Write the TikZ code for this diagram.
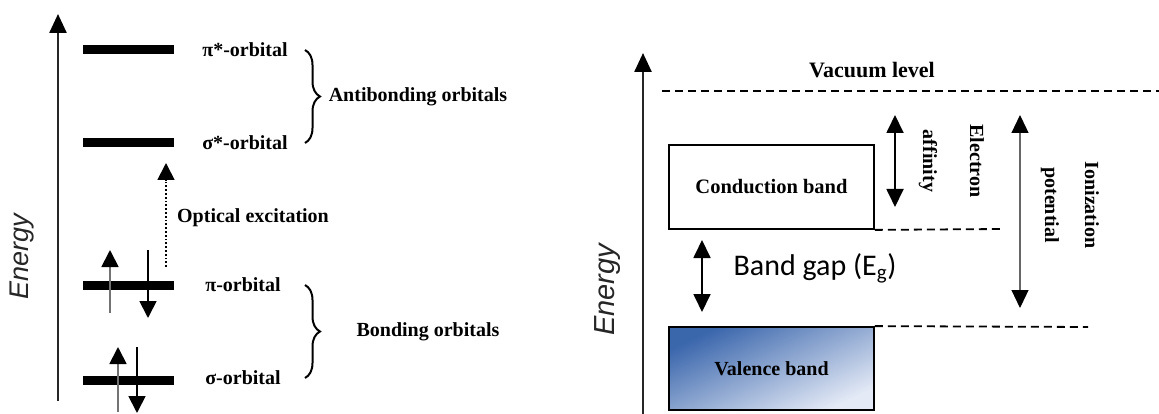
\documentclass[tikz,border=0pt]{standalone}
\usepackage{fontspec}
\setmainfont{Liberation Serif}
\newfontfamily\energyfont{Liberation Sans}
\newfontfamily\gapfont{Carlito}
\usetikzlibrary{arrows.meta,positioning,decorations.pathreplacing}
\definecolor{vbdark}{RGB}{58,102,172}
\definecolor{vblight}{RGB}{228,234,246}
\tikzset{
  orbital/.style={fill=black, inner sep=0pt, minimum width=91pt, minimum height=9pt},
  orblabel/.style={font=\fontsize{20}{22}\selectfont\bfseries, inner sep=0pt},
  energylabel/.style={font=\energyfont\itshape\fontsize{27}{30}\selectfont, text=black!85, inner sep=0pt},
  energyaxis/.style={line width=2.5pt, draw=black!85, -{Triangle[width=17pt,length=19pt,black]}},
  spin/.style={line width=1.8pt, -{Triangle[width=17pt,length=17pt,black]}},
  optical/.style={line width=1.8pt, dotted, -{Triangle[width=17pt,length=17pt,black]}},
  obrace/.style={decorate, decoration={brace, amplitude=15pt, aspect=0.5}, line width=2pt},
  band/.style={draw, line width=1.8pt, inner sep=0pt, minimum width=205pt},
  level/.style={line width=1.8pt, dash pattern=on 8pt off 5pt},
  gaparrow/.style={line width=1.8pt, {Triangle[width=17pt,length=18pt,black]}-{Triangle[width=17pt,length=18pt,black]}},
}
\begin{document}
\begin{tikzpicture}[x=1pt, y=-1pt]
  \useasboundingbox (0,0) rectangle (1159,414);

  % MOLECULAR ORBITALS
  \coordinate (ea0) at (58,401); % axis bottom
  \coordinate (ea1) at (58,14); % axis top
  \draw[energyaxis] (ea0) -- (ea1);
  \node[energylabel, rotate=90] (en0) at (22,257) {Energy};

  \node[orbital] (pistar) at (128.5,50) {};
  \node[orbital] (sigstar) at (128.5,143) {};
  \node[orbital] (pi) at (128.5,285) {};
  \node[orbital] (sig) at (128.5,380) {};

  \node[orblabel] (lpistar) at (245,50) {π*-orbital};
  \node[orblabel] (lsigstar) at (245,143) {σ*-orbital};
  \node[orblabel] (lpi) at (243,285) {π-orbital};
  \node[orblabel] (lsig) at (243,378) {σ-orbital};

  % DRAW ELECTRONS
  \coordinate (pu0) at (110,313);
  \coordinate (pu1) at (110,250);
  \coordinate (pd0) at (148,250);
  \coordinate (pd1) at (148,318);
  \coordinate (su0) at (118,412);
  \coordinate (su1) at (118,347);
  \coordinate (sd0) at (137,347);
  \coordinate (sd1) at (137,413);
  \draw[spin, draw=black!55] (pu0) -- (pu1);
  \draw[spin] (pd0) -- (pd1);
  \draw[spin, draw=black!55] (su0) -- (su1);
  \draw[spin] (sd0) -- (sd1);

  % OPTICAL EXCITATION
  \coordinate (ox0) at (166,267);
  \coordinate (ox1) at (166,163);
  \draw[optical] (ox0) -- (ox1);
  \node[orblabel] (lopt) at (253,218) {Optical excitation};

  % BRACES
  \coordinate (ab0) at (305,50);
  \coordinate (ab1) at (305,143);
  \coordinate (bb0) at (305,285);
  \coordinate (bb1) at (305,378);
  \draw[obrace] (ab0) -- (ab1);
  \draw[obrace] (bb0) -- (bb1);
  \node[orblabel] (lanti) at (418,97) {Antibonding orbitals};
  \node[orblabel] (lbond) at (428,332) {Bonding orbitals};

  % BAND DIAGRAM
  \coordinate (eb0) at (643,416); % axis bottom
  \coordinate (eb1) at (643,53); % axis top
  \draw[energyaxis] (eb0) -- (eb1);
  \node[energylabel, rotate=90, font=\energyfont\itshape\fontsize{29}{32}\selectfont] (en1) at (608,290) {Energy};

  \node[orblabel, font=\fontsize{22}{24}\selectfont\bfseries] (lvac) at (872,70) {Vacuum level};
  \coordinate (vac0) at (662,91);
  \coordinate (vac1) at (1159,91);
  \draw[level] (vac0) -- (vac1);

  \node[band, minimum height=84pt, font=\fontsize{20.5}{22}\selectfont\bfseries] (cb) at (771.5,187) {Conduction band};
  \node[band, minimum height=83pt, top color=vbdark, bottom color=vblight, shading angle=25,
        font=\fontsize{20}{22}\selectfont\bfseries] (vb) at (771.5,368.5) {Valence band};

  \coordinate (cbe) at (1002,229);
  \coordinate (vbe) at (1088,327);
  \draw[level] (cb.south east) -- (cbe);
  \draw[level] (vb.north east) -- (vbe);

  % GAP AND ENERGIES
  \coordinate (g0) at (702,240);
  \coordinate (g1) at (702,312);
  \draw[gaparrow] (g0) -- (g1);
  \node[font=\gapfont\fontsize{30}{32}\selectfont, inner sep=0pt] (lgap) at (815,268) {Band gap (E\textsubscript{g})};

  \coordinate (ea0r) at (895,115);
  \coordinate (ea1r) at (895,207);
  \draw[gaparrow] (ea0r) -- (ea1r);
  \node[orblabel, font=\fontsize{20}{47}\selectfont\bfseries, align=center, rotate=-90] (laff) at (951.5,161) {Electron\\affinity};

  \coordinate (ip0) at (1020,115);
  \coordinate (ip1) at (1020,308);
  \draw[gaparrow, line width=1.2pt, draw=black!60] (ip0) -- (ip1);
  \node[orblabel, font=\fontsize{20}{40}\selectfont\bfseries, align=center, rotate=-90] (lion) at (1070,205) {Ionization\\potential};
\end{tikzpicture}
\end{document}
